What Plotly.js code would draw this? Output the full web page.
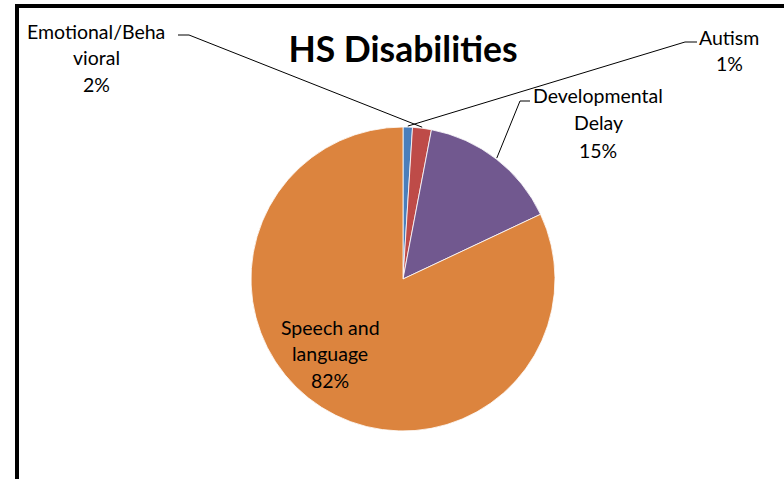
<!DOCTYPE html>
<html>
<head>
<meta charset="utf-8">
<script src="https://cdn.plot.ly/plotly-3.0.1.min.js"></script>
<style>html,body{margin:0;padding:0;background:#fff}#chart{width:784px;height:479px}</style>
</head>
<body>
<div id="chart"></div>
<script>
// Data
const labels = ['Autism', 'Emotional/Behavioral', 'Developmental Delay', 'Speech and language'];
const values = [1, 2, 15, 82];
const labelLines = [['Autism'], ['Emotional/Beha', 'vioral'], ['Developmental', 'Delay'], ['Speech and', 'language']];
const colors = ['#4A7EBB', '#BE4B48', '#71588F', '#DC843E'];
const chartTitle = 'HS Disabilities';

// Layout helpers (pixel -> paper)
const W = 784, H = 479;
const px = x => x / W;
const py = y => (H - y) / H;

const cx = 403, cy = 279, R = 152;
const total = values.reduce((a, b) => a + b, 0);
const pct = values.map(v => Math.round(v / total * 100) + '%');

// label block positions: [centerX, firstLineCenterY, lineSpacing]
const labelPos = [[729, 37, 26.5], [96, 31, 26.5], [598, 96, 27], [330, 327, 26.5]];
// leader line elbows: [textSideX, elbowX, y] (null = none)
const leaders = [[697, 685, 42], [178, 189, 35], [530, 520, 101], null];

const FONT = 'Lato, Carlito, sans-serif';
const annotations = [];
labels.forEach((lab, i) => {
  const lines = labelLines[i].concat([pct[i]]);
  const [lx, ly, sp] = labelPos[i];
  lines.forEach((t, k) => {
    annotations.push({
      xref: 'paper', yref: 'paper', x: px(lx), y: py(ly + k * sp),
      xanchor: 'center', yanchor: 'middle', showarrow: false, text: t,
      font: {family: FONT, size: 19.5, color: '#000'}
    });
  });
});

// leader lines to mid-angle of each slice
const shapes = [];
let cum = 0;
values.forEach((v, i) => {
  const mid = (cum + v / 2) / total * 2 * Math.PI;
  cum += v;
  const L = leaders[i];
  if (!L) return;
  const ex = cx + (R + 1) * Math.sin(mid), ey = cy - (R + 1) * Math.cos(mid);
  shapes.push({
    type: 'path', xref: 'paper', yref: 'paper',
    path: `M ${px(L[0])} ${py(L[2])} L ${px(L[1])} ${py(L[2])} L ${px(ex)} ${py(ey)}`,
    line: {color: '#000', width: 1}
  });
});
// frame
shapes.push({type: 'line', xref: 'paper', yref: 'paper', x0: px(15), x1: px(784), y0: py(6), y1: py(6), line: {color: '#000', width: 4}});
shapes.push({type: 'line', xref: 'paper', yref: 'paper', x0: px(17), x1: px(17), y0: py(4), y1: py(479), line: {color: '#000', width: 4}});

const trace = {
  type: 'pie', labels: labels, values: values, sort: false, direction: 'clockwise', rotation: 0,
  marker: {colors: colors, line: {color: '#fff', width: 0.8}},
  textinfo: 'none', hoverinfo: 'label+percent', showlegend: false,
  domain: {x: [px(cx - 200), px(cx + 200)], y: [py(cy + R), py(cy - R)]}
};

const layout = {
  width: W, height: H, margin: {l: 0, r: 0, t: 0, b: 0},
  paper_bgcolor: '#fff', plot_bgcolor: '#fff', showlegend: false,
  title: {text: '<b>' + chartTitle + '</b>', x: px(403), xanchor: 'center', y: py(50), yanchor: 'middle', font: {family: FONT, size: 35.5, color: '#000'}},
  annotations: annotations, shapes: shapes
};

Plotly.newPlot('chart', [trace], layout, {staticPlot: true});
</script>
</body>
</html>
